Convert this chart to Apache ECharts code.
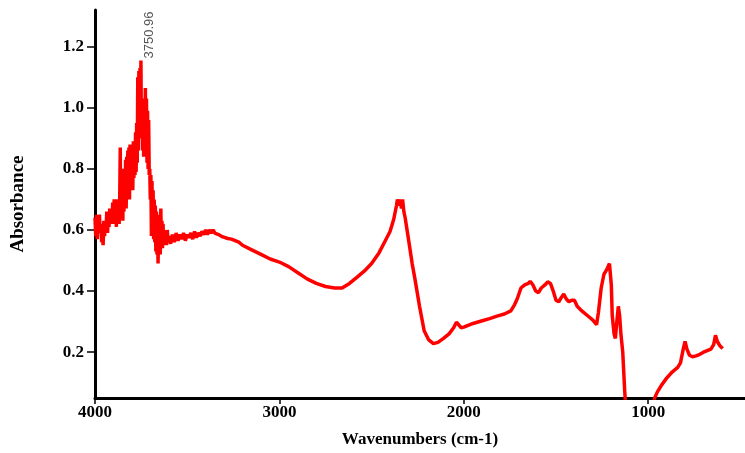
<!DOCTYPE html>
<html>
<head>
<meta charset="utf-8">
<script src="https://cdn.jsdelivr.net/npm/echarts@6/dist/echarts.min.js"></script>
<style>html,body{margin:0;padding:0;background:#fff;}#c{width:745px;height:453px;}</style>
</head>
<body>
<div id="c"></div>
<script>
var xTicks = [4000, 3000, 2000, 1000];
var yTicks = [0.2, 0.4, 0.6, 0.8, 1.0, 1.2];
var peakLabel = { wavenumber: 3750.96, absorbance: 1.155, text: '3750.96' };

var wavenumbers = [
4000,3996,3992,3988,3984,3980,3976,3972,3968,3964,3960,3956,3952,
3948,3944,3940,3936,3932,3928,3924,3920,3916,3912,3908,3904,3900,3896,3892,3888,3884,3880,3876,
3872,3869,3866,3863,3861,3858,3855,3852,3849,3846,3843,3840,3837,3834,3831,3828,3825,3822,3819,3816,3813,3810,3807,3804,3801,3798,3795,3792,3789,3786,3783,3780,3777,3774,3771,3768,3765,3762,3759,3756,3753,3751,3748,3745,3742,3739,3736,3733,3730,3727,3724,3721,3718,3715,3712,3709,3706,3703,3700,3697,3694,3691,3688,3685,3682,3679,3676,3673,3670,3667,3664,3661,3658,3655,3652,3649,3646,3643,3640,3637,3634,3631,3628,3625,3622,
3616,3612,3608,3604,3600,3590,3580,3570,3560,3550,3540,3530,3520,3510,3500,3490,3480,3470,3460,3450,3440,3430,3420,3410,3400,3390,3380,3370,3360,3350,3340,3330,3320,3310,3300,3280,3260,3240,3220,3200,3150,3100,3050,3000,2950,2900,2850,2800,2750,2700,2660,2620,2580,2540,2500,2460,2430,2400,2380,2365,2360,2350,2345,2338,2332,2325,2318,2300,2280,2265,2240,2215,2190,2165,2140,2110,2080,2055,2040,2030,2015,2000,1950,1900,1860,1820,1780,1745,1725,1710,1690,1670,1650,1640,1625,1610,1595,1580,1560,1545,1530,1515,1500,1485,1470,1458,1445,1430,1415,1400,1385,1360,1330,1300,1280,1270,1255,1240,1225,1210,1200,1195,1185,1178,1170,1162,1155,1148,1138,1128,1120,1050,975,965,950,930,900,870,840,825,810,800,790,776,760,740,720,700,680,660,645,635,625,610,596
];
var absorbance = [
0.64,0.58,0.65,0.57,0.63,0.60,0.65,0.59,0.62,0.56,0.60,0.55,0.63,
0.58,0.63,0.60,0.66,0.59,0.64,0.61,0.67,0.62,0.66,0.63,0.69,0.62,0.70,0.64,0.69,0.61,0.70,0.63,
0.68,0.62,0.70,0.87,0.64,0.80,0.66,0.78,0.63,0.80,0.66,0.76,0.69,0.83,0.67,0.84,0.70,0.86,0.71,0.87,0.70,0.88,0.73,0.88,0.74,0.88,0.73,0.89,0.77,0.88,0.78,0.92,0.79,0.95,0.82,1.10,0.86,1.12,0.90,1.13,0.92,1.155,0.90,1.03,0.86,1.01,0.84,1.00,0.86,1.065,0.88,1.03,0.82,0.99,0.80,0.96,0.78,0.80,0.70,0.78,0.58,0.76,0.60,0.73,0.57,0.70,0.56,0.68,0.53,0.66,0.52,0.64,0.49,0.62,0.55,0.65,0.52,0.67,0.55,0.63,0.54,0.62,0.55,0.60,0.56,
0.59,0.55,0.60,0.56,0.58,0.555,0.585,0.56,0.59,0.565,0.585,0.57,0.59,0.565,0.585,0.575,0.59,0.57,0.595,0.575,0.59,0.58,0.595,0.585,0.60,0.585,0.60,0.59,0.60,0.59,0.595,0.585,0.59,0.578,0.58,0.572,0.57,0.565,0.56,0.55,0.535,0.52,0.505,0.495,0.48,0.46,0.44,0.425,0.415,0.41,0.41,0.425,0.445,0.465,0.49,0.525,0.56,0.595,0.635,0.68,0.70,0.68,0.70,0.67,0.70,0.66,0.64,0.57,0.49,0.44,0.35,0.27,0.24,0.228,0.232,0.245,0.26,0.28,0.298,0.295,0.28,0.282,0.294,0.303,0.31,0.318,0.325,0.335,0.355,0.375,0.41,0.42,0.425,0.432,0.42,0.40,0.395,0.41,0.42,0.43,0.425,0.40,0.37,0.365,0.38,0.39,0.375,0.365,0.37,0.37,0.35,0.335,0.32,0.305,0.29,0.33,0.41,0.455,0.47,0.49,0.42,0.32,0.26,0.245,0.30,0.35,0.32,0.26,0.20,0.08,0.0,-0.2,0.0,0.05,0.07,0.09,0.115,0.135,0.15,0.165,0.21,0.235,0.21,0.19,0.185,0.188,0.193,0.20,0.205,0.21,0.225,0.255,0.235,0.22,0.212
];

var seriesData = wavenumbers.map(function (w, i) { return [w, absorbance[i]]; });
var serif = "'Liberation Serif','Times New Roman',serif";

var chart = echarts.init(document.getElementById('c'));
chart.setOption({
  animation: false,
  backgroundColor: '#ffffff',
  grid: { left: 95, right: 0, top: 10, bottom: 55, containLabel: false },
  xAxis: {
    type: 'value', inverse: true, min: 475, max: 4000,
    name: 'Wavenumbers (cm-1)', nameLocation: 'middle', nameGap: 33,
    nameTextStyle: { fontFamily: serif, fontWeight: 'bold', fontSize: 17, color: '#000' },
    axisLine: { show: true, lineStyle: { color: '#000', width: 3 } },
    axisTick: { show: true, length: 6, lineStyle: { color: '#000', width: 1.5 }, customValues: xTicks },
    axisLabel: { fontFamily: serif, fontWeight: 'bold', fontSize: 17, color: '#000', margin: 6,
      customValues: xTicks, formatter: function (v) { return String(v); } },
    splitLine: { show: false }
  },
  yAxis: {
    type: 'value', min: 0.05, max: 1.32,
    name: 'Absorbance', nameLocation: 'middle', nameGap: 67, nameRotate: 90,
    nameTextStyle: { fontFamily: serif, fontWeight: 'bold', fontSize: 19, color: '#000' },
    axisLine: { show: true, lineStyle: { color: '#000', width: 3 } },
    axisTick: { show: true, length: 8, lineStyle: { color: '#000', width: 1.5 }, customValues: yTicks },
    axisLabel: { fontFamily: serif, fontWeight: 'bold', fontSize: 17, color: '#000', margin: 11,
      customValues: yTicks, formatter: function (v) { return v.toFixed(1); } },
    splitLine: { show: false }
  },
  series: [{
    type: 'line', data: seriesData, showSymbol: false, clip: true,
    lineStyle: { color: '#ff0000', width: 3.5 }, itemStyle: { color: '#ff0000' }
  }]
});

var p = chart.convertToPixel({ seriesIndex: 0 }, [peakLabel.wavenumber, peakLabel.absorbance]);
chart.setOption({
  graphic: [{
    type: 'text', x: p[0] + 8, y: p[1] - 2, rotation: Math.PI / 2,
    style: { text: peakLabel.text, fill: '#555', font: "13px 'Liberation Sans', Arial, sans-serif",
      align: 'left', verticalAlign: 'middle' }
  }]
});
</script>
</body>
</html>
